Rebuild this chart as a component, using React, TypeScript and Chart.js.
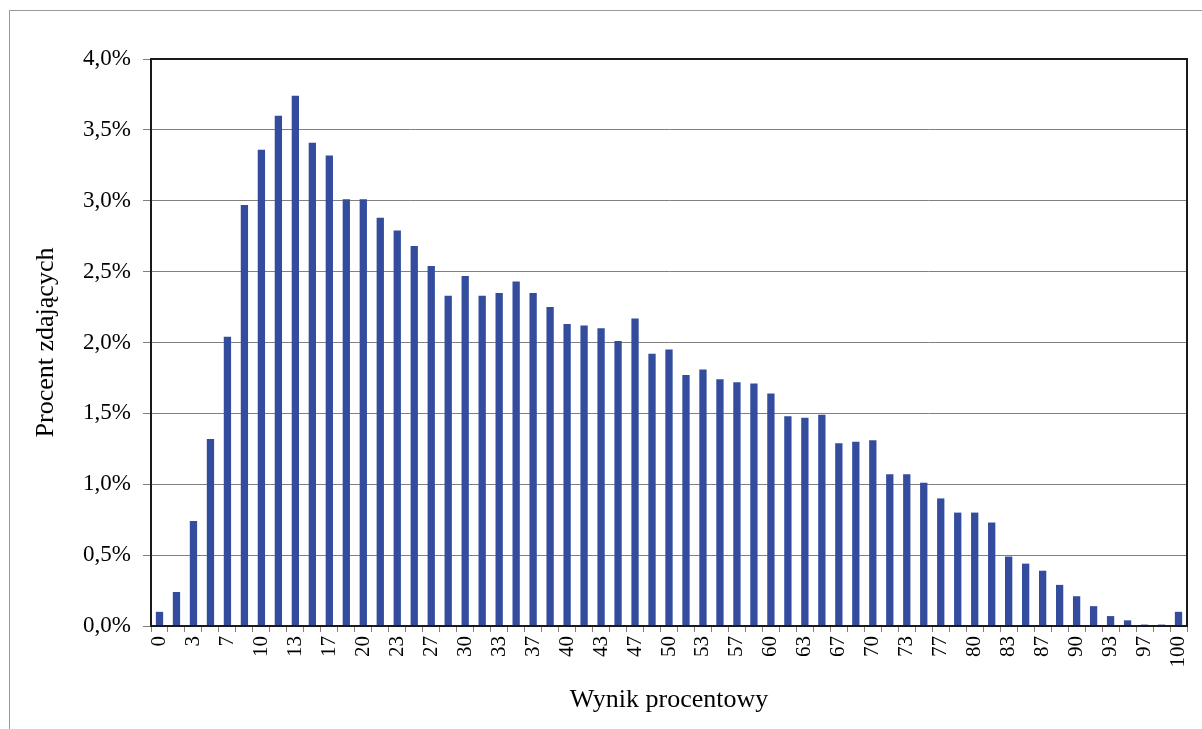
import React, { useEffect, useRef } from "react";
import { Chart, registerables } from "chart.js";

Chart.register(...registerables);

const categories: string[] = [
  "0", "2", "3", "5", "7", "8", "10", "12", "13", "15",
  "17", "18", "20", "22", "23", "25", "27", "28", "30", "32",
  "33", "35", "37", "38", "40", "42", "43", "45", "47", "48",
  "50", "52", "53", "55", "57", "58", "60", "62", "63", "65",
  "67", "68", "70", "72", "73", "75", "77", "78", "80", "82",
  "83", "85", "87", "88", "90", "92", "93", "95", "97", "98",
  "100",
];

const percentValues: number[] = [
  0.10, 0.24, 0.74, 1.32, 2.04, 2.97, 3.36, 3.60, 3.74, 3.41,
  3.32, 3.01, 3.01, 2.88, 2.79, 2.68, 2.54, 2.33, 2.47, 2.33,
  2.35, 2.43, 2.35, 2.25, 2.13, 2.12, 2.10, 2.01, 2.17, 1.92,
  1.95, 1.77, 1.81, 1.74, 1.72, 1.71, 1.64, 1.48, 1.47, 1.49,
  1.29, 1.30, 1.31, 1.07, 1.07, 1.01, 0.90, 0.80, 0.80, 0.73,
  0.49, 0.44, 0.39, 0.29, 0.21, 0.14, 0.07, 0.04, 0.01, 0.01,
  0.10,
];

const yTitle = "Procent zdających";
const xTitle = "Wynik procentowy";

const FONT = "'Liberation Serif', 'Times New Roman', serif";

const frameBorder = {
  id: "frameBorder",
  afterDatasetsDraw(chart: any) {
    const { ctx, chartArea } = chart;
    ctx.save();
    ctx.strokeStyle = "#1a1a1a";
    ctx.lineWidth = 2;
    ctx.strokeRect(chartArea.left, chartArea.top, chartArea.right - chartArea.left, chartArea.bottom - chartArea.top);
    ctx.restore();
  },
};

export default function App() {
  const canvasRef = useRef<HTMLCanvasElement | null>(null);

  useEffect(() => {
    if (!canvasRef.current) return;
    const chart = new Chart(canvasRef.current, {
      type: "bar",
      data: {
        labels: categories,
        datasets: [
          {
            data: percentValues,
            backgroundColor: "#334C9E",
            borderWidth: 0,
            barPercentage: 0.43,
            categoryPercentage: 1,
          },
        ],
      },
      plugins: [frameBorder],
      options: {
        animation: false,
        responsive: false,
        events: [],
        layout: { padding: { left: 0, top: 59, right: 15, bottom: 0 } },
        plugins: {
          legend: { display: false },
          tooltip: { enabled: false },
        },
        scales: {
          x: {
            offset: true,
            grid: {
              display: true,
              offset: true,
              drawOnChartArea: false,
              drawTicks: true,
              tickLength: 6,
              color: "#808080",
            },
            border: { display: true, color: "#1a1a1a", width: 2 },
            ticks: {
              autoSkip: false,
              maxRotation: 90,
              minRotation: 90,
              padding: 4,
              color: "#000",
              font: { family: FONT, size: 21 },
              callback: (_v: any, i: number) => (i % 2 === 0 ? categories[i] : ""),
            },
            title: {
              display: true,
              text: xTitle,
              color: "#000",
              font: { family: FONT, size: 26 },
              padding: { top: 0, bottom: 13 },
            },
            afterFit: (s: any) => {
              s.height = 103;
              s.paddingRight = 0;
              s.paddingLeft = 0;
            },
          },
          y: {
            min: 0,
            max: 4,
            grid: {
              color: "#808080",
              lineWidth: 1,
              tickLength: 8,
            },
            border: { display: true, color: "#1a1a1a", width: 2 },
            ticks: {
              stepSize: 0.5,
              padding: 12,
              color: "#000",
              font: { family: FONT, size: 23 },
              callback: (v: any) => Number(v).toFixed(1).replace(".", ",") + "%",
            },
            title: {
              display: true,
              text: yTitle,
              color: "#000",
              font: { family: FONT, size: 26 },
              padding: { top: 31, bottom: 0 },
            },
            afterFit: (s: any) => {
              s.width = 151;
              s.paddingTop = 0;
              s.paddingBottom = 0;
            },
          },
        },
      },
    });
    return () => chart.destroy();
  }, []);

  return (
    <div style={{ position: "absolute", left: 0, top: 0, width: 1202, height: 729, background: "#fff", overflow: "hidden" }}>
      <div
        style={{
          position: "absolute",
          left: 9,
          top: 10,
          width: 1202,
          height: 729,
          borderLeft: "1px solid #999",
          borderTop: "1px solid #999",
        }}
      />
      <canvas ref={canvasRef} width={1202} height={729} style={{ position: "absolute", left: 0, top: 0 }} />
    </div>
  );
}
